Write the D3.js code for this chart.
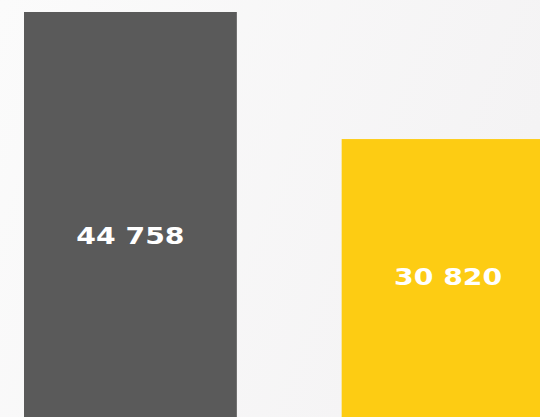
<!DOCTYPE html>
<html lang="en">
<head>
    <meta charset="utf-8">
    <title>Bars</title>
    <script src="https://d3js.org/d3.v7.min.js"></script>
    <style>
        html, body { margin: 0; padding: 0; background: #f8f8f8; overflow: hidden; }
    </style>
</head>
<body>
    <div id="chart"></div>
    <script>
        // Data
        const categories = ["A", "B"];
        const values = [44758, 30820];
        const barColors = ["#5a5a5a", "#fdcc13"];

        const width = 540;
        const height = 417;

        const svg = d3.select("#chart")
            .append("svg")
            .attr("width", width)
            .attr("height", height);

        // Background with a soft gradient
        const defs = svg.append("defs");
        const grad = defs.append("linearGradient")
            .attr("id", "bg")
            .attr("x1", "0").attr("y1", "0")
            .attr("x2", "1").attr("y2", "0.3");
        grad.append("stop").attr("offset", "0%").attr("stop-color", "#fbfbfb");
        grad.append("stop").attr("offset", "100%").attr("stop-color", "#f4f3f4");

        svg.append("rect")
            .attr("width", width)
            .attr("height", height)
            .attr("fill", "url(#bg)");

        // Scales
        const x = d3.scaleBand()
            .domain(categories)
            .range([24, 554.5])
            .paddingInner(0.33)
            .paddingOuter(0);

        const y = d3.scaleLinear()
            .domain([0, d3.max(values)])
            .range([420, 12]);

        const data = categories.map((c, i) => ({ cat: c, value: values[i], color: barColors[i] }));

        // Bars
        svg.selectAll("rect.bar")
            .data(data)
            .join("rect")
            .attr("class", "bar")
            .attr("x", d => x(d.cat))
            .attr("y", d => y(d.value))
            .attr("width", x.bandwidth())
            .attr("height", d => y(0) - y(d.value))
            .attr("fill", d => d.color);

        // Labels
        const fmt = v => d3.format(",")(v).replace(/,/g, " ");
        svg.selectAll("text.label")
            .data(data)
            .join("text")
            .attr("class", "label")
            .attr("transform", d => {
                const top = y(d.value);
                const h = y(0) - top;
                const cy = top + 0.685 * h - 55 + 8;
                return `translate(${x(d.cat) + x.bandwidth() / 2},${cy}) scale(1.23,1)`;
            })
            .attr("text-anchor", "middle")
            .style("font-family", "'DejaVu Sans', Verdana, sans-serif")
            .style("font-weight", "bold")
            .style("font-size", "23px")
            .style("fill", "#ffffff")
            .text(d => fmt(d.value));
    </script>
</body>
</html>
